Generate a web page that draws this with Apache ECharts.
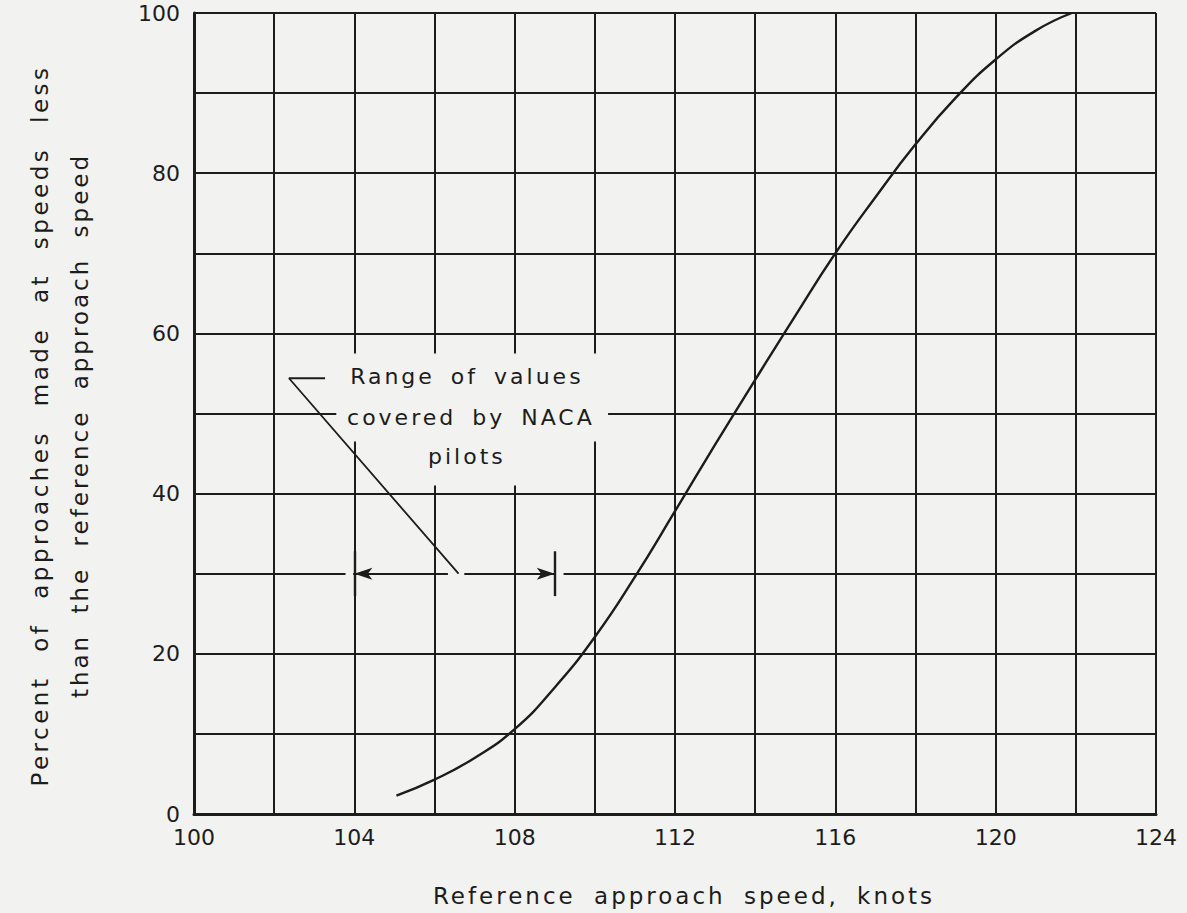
<!DOCTYPE html>
<html>
<head>
<meta charset="utf-8">
<script src="https://cdn.jsdelivr.net/npm/echarts@6/dist/echarts.min.js"></script>
<style>
  html, body { margin: 0; padding: 0; background: #f2f2f0; }
  #chart { width: 1187px; height: 913px; }
</style>
</head>
<body>
<div id="chart"></div>
<script>
// ---- data ----
const speedKnots  = [105.05, 106, 107, 108, 109, 110, 111, 112, 113, 114, 115, 116, 117, 118, 119, 120, 121, 121.9];
const percentLess = [2.3, 4.3, 7.0, 10.6, 15.8, 22.1, 29.6, 37.8, 46.1, 54.2, 62.2, 70.0, 77.0, 83.6, 89.4, 94.2, 97.8, 100];
const xTickLabels = ['100', '104', '108', '112', '116', '120', '124'];
const yTickLabels = ['0', '20', '40', '60', '80', '100'];
const annotationLines = ['Range of values', 'covered by NACA', 'pilots'];
const nacaRangeKnots = [104, 109];   // range of values covered by NACA pilots
const xTitle = 'Reference approach speed, knots';
const yTitleLines = ['Percent of approaches made at speeds less', 'than the reference approach speed'];

// ---- annotation geometry (data coordinates) ----
const ann = {
  textAnchors: [[106.82, 54.5], [106.92, 49.4], [106.82, 44.6]],
  leader: [[103.27, 54.4], [102.37, 54.4], [106.6, 30.0]],
  level: 30,
  arrowStarts: [106.33, 106.75],
  barHalf: 2.8
};
const paper = '#f2f2f0';
const ink = '#1c1c1c';
const FONT = 'DejaVu Sans';

const curve = speedKnots.map((x, i) => [x, percentLess[i]]);

const option = {
  animation: false,
  backgroundColor: paper,
  grid: { left: 194, right: 31, top: 13, bottom: 99, containLabel: false, outerBoundsMode: 'none' },
  xAxis: {
    type: 'value', min: 100, max: 124, interval: 2,
    name: xTitle, nameLocation: 'middle', nameGap: 70, nameMoveOverlap: false,
    nameTextStyle: { fontFamily: FONT, fontSize: 23, color: ink, padding: [0, 0, 0, 18] },
    axisLine: { show: true, onZero: false, lineStyle: { color: ink, width: 3 } },
    axisTick: { show: false },
    axisLabel: {
      interval: 1, margin: 12, fontFamily: FONT, fontSize: 22, color: ink,
      formatter: v => xTickLabels.includes(String(v)) ? String(v) : ''
    },
    splitLine: { show: true, lineStyle: { color: ink, width: 2 } }
  },
  yAxis: {
    type: 'value', min: 0, max: 100, interval: 10,
    name: yTitleLines.join('\n'), nameLocation: 'middle', nameRotate: 90, nameGap: 94,
    nameMoveOverlap: false,
    nameTextStyle: { fontFamily: FONT, fontSize: 23, color: ink, lineHeight: 40, padding: [0, 24, 0, 0] },
    axisLine: { show: true, lineStyle: { color: ink, width: 3 } },
    axisTick: { show: false },
    axisLabel: {
      interval: 1, margin: 14, fontFamily: FONT, fontSize: 22, color: ink,
      formatter: v => yTickLabels.includes(String(v)) ? String(v) : ''
    },
    splitLine: { show: true, lineStyle: { color: ink, width: 2 } }
  },
  series: [
    {
      // paper-coloured breaks in the grid behind the lettering
      name: 'masks', type: 'line', data: [], z: 1, silent: true,
      markArea: {
        silent: true,
        itemStyle: { color: paper, borderWidth: 0, opacity: 1 },
        label: { show: false },
        data: [
          [{ coord: [103.55, 46.5] }, { coord: [110.33, 57.5] }],
          [{ coord: [105.7, 41.0] }, { coord: [108.3, 46.6] }],
          [{ coord: [103.78, 29.5] }, { coord: [103.97, 30.5] }],
          [{ coord: [106.33, 29.5] }, { coord: [106.75, 30.5] }],
          [{ coord: [109.02, 29.5] }, { coord: [109.22, 30.5] }]
        ]
      }
    },
    {
      name: 'Percent of approaches', type: 'line', data: curve, z: 4,
      smooth: 0.5, showSymbol: false, symbol: 'none',
      lineStyle: { color: ink, width: 2.4 }
    },
    {
      name: 'leader', type: 'line', data: ann.leader, z: 4, silent: true,
      showSymbol: false, symbol: 'none',
      lineStyle: { color: ink, width: 1.8 },
      markLine: {
        silent: true, animation: false,
        label: { show: false },
        lineStyle: { color: ink, width: 1.8, type: 'solid', opacity: 1 },
        symbol: ['none', 'arrow'], symbolSize: [9, 18],
        data: [
          [{ coord: [ann.arrowStarts[0], ann.level] }, { coord: [nacaRangeKnots[0], ann.level] }],
          [{ coord: [ann.arrowStarts[1], ann.level] }, { coord: [nacaRangeKnots[1], ann.level] }],
          [{ coord: [nacaRangeKnots[0], ann.level + ann.barHalf], symbol: 'none' },
           { coord: [nacaRangeKnots[0], ann.level - ann.barHalf], symbol: 'none', lineStyle: { width: 2.4 } }],
          [{ coord: [nacaRangeKnots[1], ann.level + ann.barHalf], symbol: 'none' },
           { coord: [nacaRangeKnots[1], ann.level - ann.barHalf], symbol: 'none', lineStyle: { width: 2.4 } }]
        ]
      }
    },
    {
      name: 'annotation', type: 'scatter', data: ann.textAnchors, z: 5, silent: true,
      symbolSize: 1, itemStyle: { color: 'rgba(0,0,0,0)' },
      label: {
        show: true, position: [0, 0], align: 'center', verticalAlign: 'middle',
        fontFamily: FONT, fontSize: 22, color: ink, opacity: 1,
        textBorderWidth: 0,
        formatter: p => annotationLines[p.dataIndex]
      }
    }
  ]
};

const chart = echarts.init(document.getElementById('chart'), null, { renderer: 'svg' });
chart.setOption(option);

// widen the lettering like the hand-lettered original
function applyTracking() {
  document.querySelectorAll('#chart svg text').forEach(t => {
    const s = t.textContent.trim();
    if (!s || /^\d+$/.test(s)) return;
    let ls = 3, ws = 6;
    if (s === yTitleLines[0]) { ls = 3.5; ws = 13; }
    else if (s === yTitleLines[1]) { ls = 3; ws = 10; }
    else if (s === xTitle) { ls = 3; ws = 8; }
    t.style.letterSpacing = ls + 'px';
    t.style.wordSpacing = ws + 'px';
  });
}
applyTracking();
chart.on('finished', applyTracking);
</script>
</body>
</html>
